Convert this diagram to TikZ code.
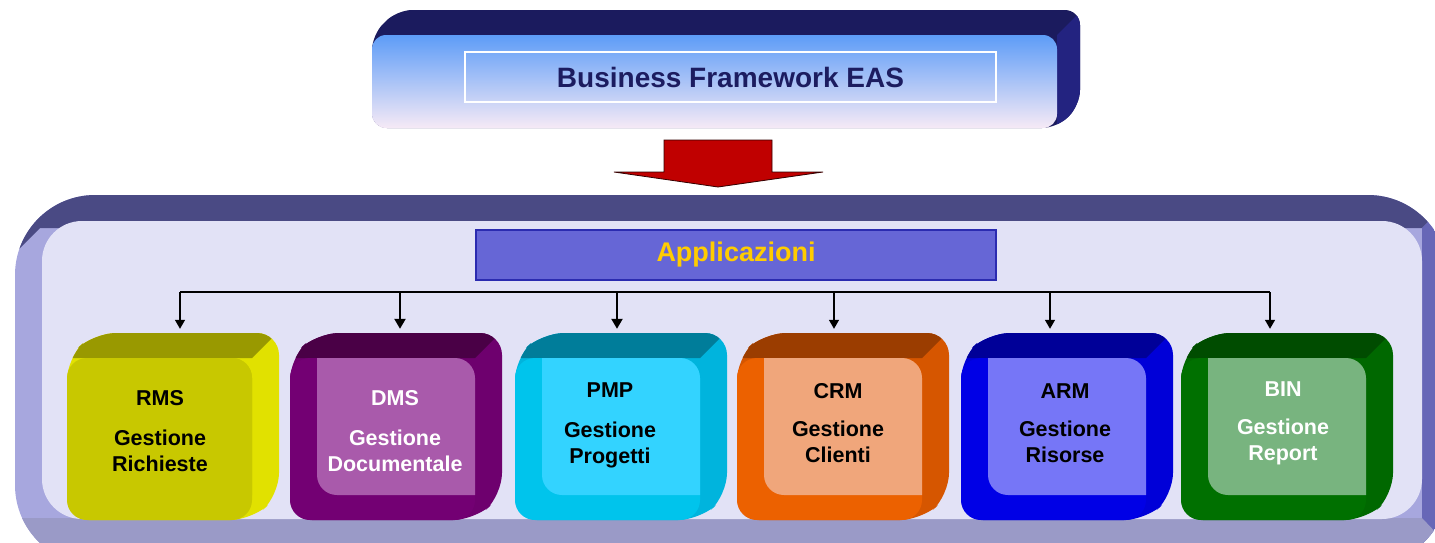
\documentclass[tikz,border=0pt]{standalone}
\usepackage{fontspec}
\setmainfont{Liberation Sans}
\usetikzlibrary{arrows.meta}
\definecolor{navy}{HTML}{1B1B5E}
\definecolor{navyside}{HTML}{232380}
\definecolor{titletxt}{HTML}{1C1C60}
\definecolor{frtop}{HTML}{5D9CF7}
\definecolor{frmid}{HTML}{9CC3F2}
\definecolor{frbot}{HTML}{F6EAF6}
\definecolor{redarrow}{HTML}{C00000}
\definecolor{ctop}{HTML}{4A4A84}
\definecolor{cleft}{HTML}{A7A7DE}
\definecolor{cright}{HTML}{6767B7}
\definecolor{cbottom}{HTML}{9A9AC7}
\definecolor{cface}{HTML}{E2E2F6}
\definecolor{appfill}{HTML}{6666D6}
\definecolor{appdraw}{HTML}{2B2BB0}
\definecolor{apptxt}{HTML}{FFCC00}
% module colours
\definecolor{rmsS}{HTML}{E1E100}\definecolor{rmsT}{HTML}{999900}\definecolor{rmsF}{HTML}{C8C800}
\definecolor{dmsS}{HTML}{6E006E}\definecolor{dmsT}{HTML}{4A0046}\definecolor{dmsF}{HTML}{730073}\definecolor{dmsI}{HTML}{A95AAB}
\definecolor{pmpS}{HTML}{00B4DD}\definecolor{pmpT}{HTML}{007D9A}\definecolor{pmpF}{HTML}{00C4EC}\definecolor{pmpI}{HTML}{33D3FF}
\definecolor{crmS}{HTML}{D65600}\definecolor{crmT}{HTML}{9B3D00}\definecolor{crmF}{HTML}{EC6100}\definecolor{crmI}{HTML}{F0A67B}
\definecolor{armS}{HTML}{0000D8}\definecolor{armT}{HTML}{000098}\definecolor{armF}{HTML}{0000E6}\definecolor{armI}{HTML}{7676F7}
\definecolor{binS}{HTML}{006800}\definecolor{binT}{HTML}{004C00}\definecolor{binF}{HTML}{007000}\definecolor{binI}{HTML}{78B47F}

% #1 x0, #2 side, #3 top, #4 front, #5 inner
\newcommand\modcube[5]{%
  \fill[#2, rounded corners=22] (#1,520) -- (#1,358) -- ({#1+27},333) -- ({#1+212},333) -- ({#1+212},495) -- ({#1+185},520) -- cycle;
  \begin{scope}
    \clip[rounded corners=22] (#1,520) -- (#1,358) -- ({#1+27},333) -- ({#1+212},333) -- ({#1+212},495) -- ({#1+185},520) -- cycle;
    \fill[#3] ({#1-20},358) -- ({#1+185},358) -- ({#1+212},331) -- ({#1+240},331) -- ({#1+240},300) -- ({#1-20},300) -- cycle;
  \end{scope}
  \fill[#4, rounded corners=20] (#1,358) rectangle ({#1+185},520);
  \begin{scope}
    \clip[rounded corners=20] (#1,358) rectangle ({#1+185},520);
    \fill[#5, rounded corners=20] ({#1+27},333) rectangle ({#1+212},495);
  \end{scope}
}

\tikzset{
  modlabel/.style={font=\fontsize{21.5}{26}\selectfont\bfseries, align=center, inner sep=0pt},
  modbody/.style={minimum width=212, minimum height=187, inner sep=0pt},
  bus/.style={line width=1.3},
  busarrow/.style={line width=1.3, -{Triangle[width=10,length=9]}},
  busarrowthick/.style={line width=2.2, -{Triangle[width=11,length=10]}},
}

\begin{document}
\begin{tikzpicture}[x=1pt,y=-1pt]
\useasboundingbox (0,0) rectangle (1435,542);
\clip (0,0) rectangle (1435,542);

% ---------- top 3D box ----------
\fill[navy, rounded corners=15] (372,128) -- (372,35) -- (397,10) -- (1080,10) -- (1080,105) -- (1057,128) -- cycle;
\begin{scope}
  \clip[rounded corners=15] (372,128) -- (372,35) -- (397,10) -- (1080,10) -- (1080,105) -- (1057,128) -- cycle;
  \fill[navyside] (1057,35) -- (1082,10) -- (1100,10) -- (1100,140) -- (1057,140) -- cycle;
\end{scope}
\shade[rounded corners=14, top color=frtop, middle color=frmid, bottom color=frbot]
  (372,35) rectangle (1057,128);
\node[draw=white, line width=1.2, minimum width=531, minimum height=50, inner sep=0pt,
      font=\fontsize{28}{32}\selectfont\bfseries, text=titletxt] (bf) at (730.5,77) {Business Framework EAS};

% ---------- red arrow ----------
\fill[redarrow, draw=black!80!red, line width=0.8]
  (664,140) -- (772,140) -- (772,172) -- (823,172) -- (718,187) -- (614,172) -- (664,172) -- cycle;

% ---------- container ----------
\begin{scope}
  \clip[rounded corners=80] (15,195) rectangle (1448,565);
  \fill[cleft] (0,150) rectangle (1500,600);
  \fill[ctop] (-10,150) -- (1500,150) -- (1422,228) -- (40,228) -- (-10,278) -- cycle;
  \fill[cright] (1422,228) -- (1500,150) -- (1500,600) -- (1422,600) -- cycle;
  \fill[cbottom] (-10,518) -- (1422,518) -- (1500,600) -- (-10,600) -- cycle;
\end{scope}
\fill[cface, rounded corners=40] (42,221) rectangle (1422,519);

% ---------- Applicazioni ----------
\node[fill=appfill, draw=appdraw, line width=1.2, minimum width=520, minimum height=50, inner sep=0pt,
      font=\fontsize{27}{31}\selectfont\bfseries, text=apptxt] (app) at (736,255) {Applicazioni};

% ---------- modules ----------
\modcube{67}{rmsS}{rmsT}{rmsF}{rmsF}
\modcube{290}{dmsS}{dmsT}{dmsF}{dmsI}
\modcube{515}{pmpS}{pmpT}{pmpF}{pmpI}
\modcube{737}{crmS}{crmT}{crmF}{crmI}
\modcube{961}{armS}{armT}{armF}{armI}
\modcube{1181}{binS}{binT}{binF}{binI}

\node[modbody] (rms) at (173,426.5) {};
\node[modbody] (dms) at (396,426.5) {};
\node[modbody] (pmp) at (621,426.5) {};
\node[modbody] (crm) at (843,426.5) {};
\node[modbody] (arm) at (1067,426.5) {};
\node[modbody] (bin) at (1287,426.5) {};

\node[modlabel, text=black] (rmsL) at (160,431) {RMS\\[14pt]Gestione\\Richieste};
\node[modlabel, text=white] (dmsL) at (395,431) {DMS\\[14pt]Gestione\\Documentale};
\node[modlabel, text=black] (pmpL) at (610,425) {PMP\\[14pt]Gestione\\Progetti};
\node[modlabel, text=black] (crmL) at (838,423) {CRM\\[12pt]Gestione\\Clienti};
\node[modlabel, text=black] (armL) at (1065,423) {ARM\\[12pt]Gestione\\Risorse};
\node[modlabel, text=white] (binL) at (1283,423) {BIN\\[12pt]Gestione\\Report};

% ---------- connectors ----------
\coordinate (b1) at (180,292);
\coordinate (b2) at (400,292);
\coordinate (b3) at (617,292);
\coordinate (b4) at (834,292);
\coordinate (b5) at (1050,292);
\coordinate (b6) at (1270,292);
\draw[bus] (b1) -- (b6);
\draw[busarrow] (b1) -- ([yshift=4pt]b1 |- rms.north);
\draw[busarrowthick] (b2) -- ([yshift=4pt]b2 |- dms.north);
\draw[busarrowthick] (b3) -- ([yshift=4pt]b3 |- pmp.north);
\draw[busarrow] (b4) -- ([yshift=4pt]b4 |- crm.north);
\draw[busarrow] (b5) -- ([yshift=4pt]b5 |- arm.north);
\draw[busarrow] (b6) -- ([yshift=4pt]b6 |- bin.north);
\end{tikzpicture}
\end{document}
